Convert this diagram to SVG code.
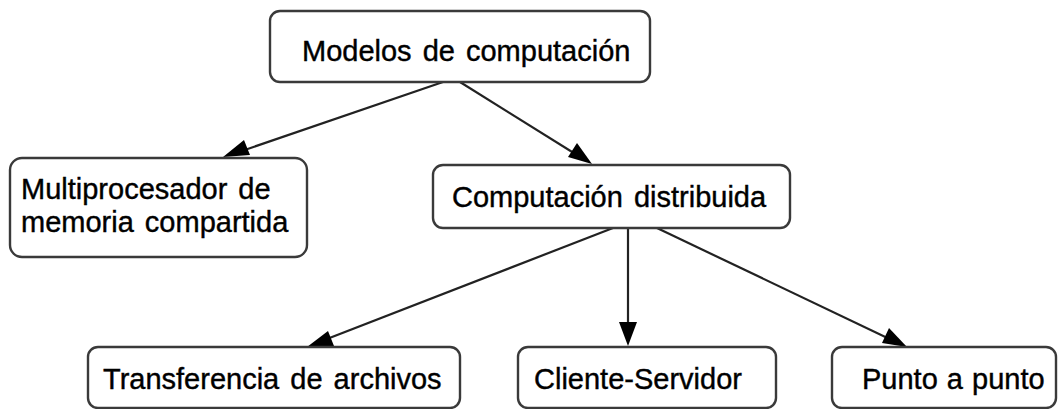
<svg xmlns="http://www.w3.org/2000/svg" width="1060" height="409" viewBox="0 0 1060 409">
<style>
.box{fill:#fff;stroke:#3a3a3a;stroke-width:2.4}
.lbl{font-family:"Liberation Sans",Arial,sans-serif;font-size:29px;fill:#000;stroke:#000;stroke-width:0.4;word-spacing:3px}
.edge{stroke:#222;stroke-width:2.2;fill:none}
.head{fill:#000}
</style>
<rect width="1060" height="409" fill="#fff"/>
<g id="connectors">
<line class="edge" x1="443" y1="82" x2="230" y2="155"/>
<path class="head" d="M223,157 L244,140 L250,155 Z"/>
<line class="edge" x1="460" y1="82" x2="585" y2="160"/>
<path class="head" d="M592,164 L568,157 L577,143 Z"/>
<line class="edge" x1="613" y1="228" x2="314" y2="344"/>
<path class="head" d="M307,347 L328,331 L334,346 Z"/>
<line class="edge" x1="628" y1="228" x2="628" y2="330"/>
<path class="head" d="M628,346 L619,322 L637,322 Z"/>
<line class="edge" x1="657" y1="228" x2="900" y2="344"/>
<path class="head" d="M907,347 L882,343 L889,328 Z"/>
</g>
<g id="n_modelos">
<rect class="box" x="270" y="11" width="380" height="71" rx="10"/>
<text class="lbl" x="302" y="61">Modelos de computación</text>
</g>
<g id="n_multi">
<rect class="box" x="10" y="158" width="297" height="99" rx="12"/>
<text class="lbl" x="21" y="199">Multiprocesador de</text>
<text class="lbl" x="21" y="232">memoria compartida</text>
</g>
<g id="n_distrib">
<rect class="box" x="433" y="165" width="357" height="63" rx="10"/>
<text class="lbl" x="452" y="207">Computación distribuida</text>
</g>
<g id="n_transf">
<rect class="box" x="88" y="347" width="372" height="61" rx="10"/>
<text class="lbl" x="103" y="389">Transferencia de archivos</text>
</g>
<g id="n_cliente">
<rect class="box" x="518" y="347" width="258" height="61" rx="10"/>
<text class="lbl" x="534" y="389">Cliente-Servidor</text>
</g>
<g id="n_punto">
<rect class="box" x="832" y="347" width="224" height="61" rx="10"/>
<text class="lbl" x="862" y="389" style="word-spacing:1px">Punto a punto</text>
</g>
</svg>
